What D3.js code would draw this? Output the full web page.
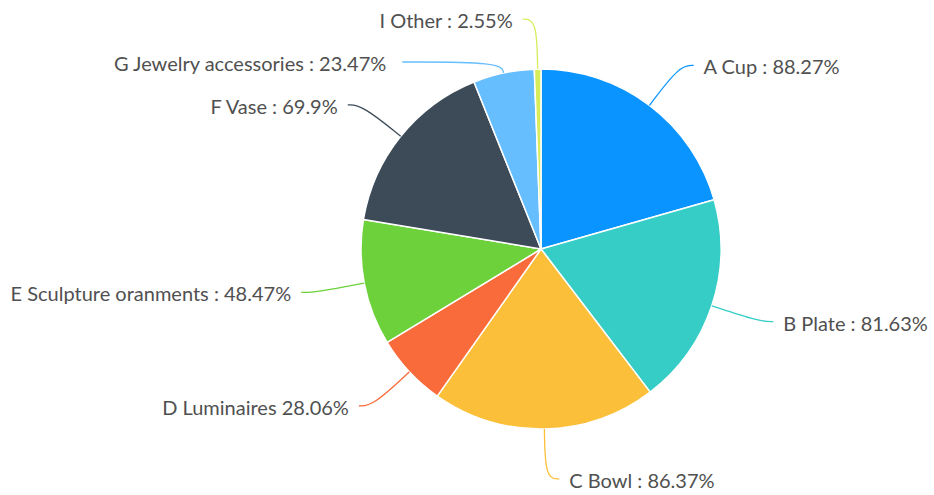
<!DOCTYPE html>
<html>
<head>
<meta charset="utf-8">
<script src="https://cdn.jsdelivr.net/npm/d3@7/dist/d3.min.js"></script>
<style>
  html, body { margin: 0; padding: 0; background: #fff; }
  svg { display: block; }
</style>
</head>
<body>
<svg id="chart" width="934" height="495"></svg>
<script>
// Share of each product category
const categories = ["A Cup", "B Plate", "C Bowl", "D Luminaires", "E Sculpture oranments", "F Vase", "G Jewelry accessories", "I Other"];
const values = [88.27, 81.63, 86.37, 28.06, 48.47, 69.9, 23.47, 2.55];
const labelTexts = ["A Cup : 88.27%", "B Plate : 81.63%", "C Bowl : 86.37%", "D Luminaires 28.06%", "E Sculpture oranments : 48.47%", "F Vase : 69.9%", "G Jewelry accessories : 23.47%", "I Other : 2.55%"];
const colors = ["#0a94ff", "#36cdc6", "#fbbf3a", "#fa6b3b", "#6cd13a", "#3d4b59", "#66beff", "#d8ec5a"];

const width = 934, height = 495;
const cx = 541, cy = 249, radius = 180;
const len1 = 50, len2 = 14, gap = 10;
// Labels that were pushed to avoid overlapping a neighbour: new line height and longer tail
const shifted = { 6: { y: 62, len2: 99, gap: 16 } };

const svg = d3.select("#chart");
const g = svg.append("g").attr("transform", `translate(${cx},${cy})`);

const data = categories.map((c, i) => ({ name: c, value: values[i], label: labelTexts[i], color: colors[i] }));

const pie = d3.pie().value(d => d.value).sort(null);
const arc = d3.arc().innerRadius(0).outerRadius(radius);
const arcs = pie(data);

g.selectAll("path.slice")
  .data(arcs)
  .join("path")
  .attr("class", "slice")
  .attr("d", arc)
  .attr("fill", d => d.data.color)
  .attr("stroke", "#fff")
  .attr("stroke-width", 1.5)
  .attr("stroke-linejoin", "round");

const polar = (a, r) => [Math.sin(a) * r, -Math.cos(a) * r];
const line = d3.line().curve(d3.curveBasis);

arcs.forEach((d, i) => {
  const mid = (d.startAngle + d.endAngle) / 2;
  const right = Math.sin(mid) >= 0 ? 1 : -1;
  const p0 = polar(mid, radius);
  let p1, l2 = len2, gp = gap;
  if (shifted[i]) {
    // slide along the radial direction until reaching the label's row
    const ty = shifted[i].y - cy;
    const t = (ty - p0[1]) / (-Math.cos(mid));
    p1 = [p0[0] + Math.sin(mid) * t, ty];
    l2 = shifted[i].len2;
    gp = shifted[i].gap;
  } else {
    p1 = polar(mid, radius + len1);
  }
  const p2 = [p1[0] + right * l2, p1[1]];

  g.append("path")
    .attr("d", line([p0, p1, p2]))
    .attr("fill", "none")
    .attr("stroke", d.data.color)
    .attr("stroke-width", 1.3);

  g.append("text")
    .attr("x", p2[0] + right * gp)
    .attr("y", p2[1])
    .attr("dy", "0.45em")
    .attr("text-anchor", right > 0 ? "start" : "end")
    .attr("font-family", "Lato, 'Open Sans', sans-serif")
    .attr("font-size", 20)
    .attr("fill", "#505050")
    .text(d.data.label);
});
</script>
</body>
</html>
